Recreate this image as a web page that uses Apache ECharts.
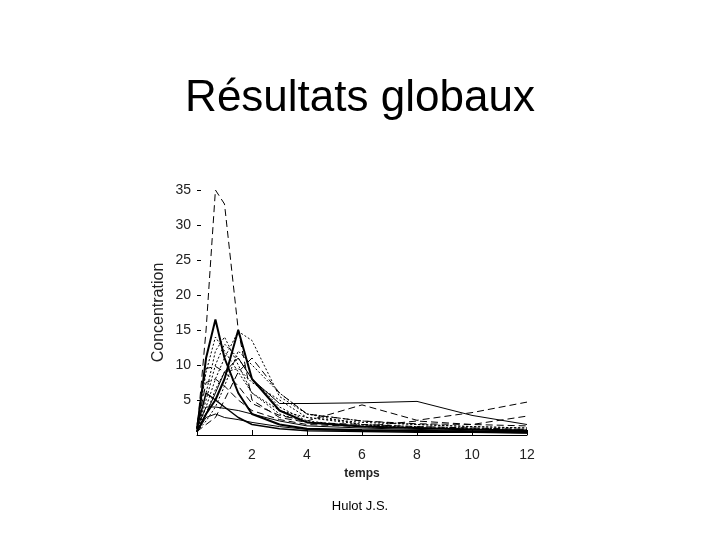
<!DOCTYPE html>
<html>
<head>
<meta charset="utf-8">
<script src="https://cdn.jsdelivr.net/npm/echarts@6/dist/echarts.min.js"></script>
<style>html,body{margin:0;padding:0;background:#fff;}#c{width:720px;height:540px;}</style>
</head>
<body>
<div id="c"></div>
<script>
// sampling times (h)
var times = [0, 0.33, 0.67, 1, 1.5, 2, 3, 4, 6, 8, 10, 12];
var xTicks = [2, 4, 6, 8, 10, 12];
var yTicks = [5, 10, 15, 20, 25, 30, 35];

// individual concentration profiles
var p1  = [0.5, 15, 35, 33, 15, 5, 2.5, 1.8, 1.5, 1.2, 1.0, 0.8];
var p2  = [0.8, 11, 16.5, 11, 6, 3, 1.5, 0.9, 0.7, 0.6, 0.5, 0.4];
var p3  = [0.5, 3, 5, 8, 15, 8, 3.5, 1.8, 1.2, 1.0, 0.8, 0.6];
var p4  = [0.5, 4, 8, 11, 14.8, 13.5, 5.5, 3, 2, 1.5, 1.2, 1.0];
var p5  = [1, 9, 14, 12, 9, 6, 3.5, 2.5, 1.8, 1.5, 1.2, 1.0];
var p6  = [1.5, 9.5, 9.8, 9, 7, 4.5, 2.8, 2, 4.3, 2.1, 3.2, 4.7];
var p7  = [0.5, 3, 6, 9, 11, 8, 4.5, 4.5, 4.6, 4.8, 2.8, 1.5];
var p8  = [0.5, 2, 4, 7, 12, 10, 6, 3, 1.5, 1, 0.8, 0.6];
var p9  = [0.5, 5, 10, 13, 11, 8, 4, 2, 1.2, 1, 0.8, 0.7];
var p10 = [1, 4, 4, 3.8, 3.5, 3, 2, 1.3, 1, 0.8, 0.6, 0.5];
var p11 = [0.5, 2.5, 3, 2.5, 2.2, 1.8, 1.2, 0.8, 0.6, 0.5, 0.4, 0.3];
var p12 = [1, 7.5, 8, 7, 5, 3.5, 2.2, 1.5, 1.2, 2, 1.5, 2.7];
var p13 = [0.5, 6, 12, 14, 10, 6, 3, 1.8, 1.3, 1, 0.9, 0.7];
var p14 = [1, 6, 5, 4, 2.5, 1.5, 0.9, 0.6, 0.5, 0.4, 0.4, 0.3];
var p15 = [0.5, 1.5, 2.5, 5, 9, 11, 6, 3, 2, 1.6, 1.5, 1.3];
var p16 = [0.5, 3, 6.5, 9, 9.5, 7.5, 5, 2.5, 1.5, 1.2, 1.0, 0.8];

var profiles = [
  {d: p1, t: 'dashed', w: 1},
  {d: p2, t: 'solid', w: 2},
  {d: p3, t: 'solid', w: 2},
  {d: p4, t: 'dotted', w: 1},
  {d: p5, t: 'dotted', w: 1},
  {d: p6, t: 'dashed', w: 1},
  {d: p7, t: 'solid', w: 1},
  {d: p8, t: 'dotted', w: 1},
  {d: p9, t: 'dotted', w: 1},
  {d: p10, t: 'solid', w: 1},
  {d: p11, t: 'solid', w: 1},
  {d: p12, t: 'dashed', w: 1},
  {d: p13, t: 'dotted', w: 1},
  {d: p14, t: 'solid', w: 1.5},
  {d: p15, t: 'dashed', w: 1},
  {d: p16, t: 'dotted', w: 1}
];

var dashMap = {solid: 'solid', dashed: [7, 4], dotted: [2, 2]};

var series = profiles.map(function (p) {
  return {
    type: 'line',
    data: times.map(function (t, i) { return [t, p.d[i]]; }),
    showSymbol: false,
    clip: false,
    silent: true,
    lineStyle: {color: '#000', width: p.w, type: dashMap[p.t]}
  };
});

var chart = echarts.init(document.getElementById('c'), null, {renderer: 'canvas'});
chart.setOption({
  animation: false,
  backgroundColor: '#fff',
  textStyle: {fontFamily: 'Liberation Sans, Arial, sans-serif'},
  title: {
    text: 'Résultats globaux',
    left: 'center',
    top: 72,
    textStyle: {fontSize: 44, fontWeight: 'normal', color: '#000', fontFamily: 'Liberation Sans, Arial, sans-serif'}
  },
  grid: {left: 197, right: 193, top: 190, bottom: 105},
  xAxis: {
    type: 'value',
    min: 0, max: 12, interval: 2,
    name: 'temps',
    nameLocation: 'middle',
    nameGap: 33,
    nameTextStyle: {fontSize: 12, fontWeight: 'bold', color: '#222'},
    splitLine: {show: false},
    axisLine: {show: true, lineStyle: {color: '#000', width: 1}},
    axisTick: {show: true, inside: true, length: 5, lineStyle: {color: '#000'}},
    axisLabel: {
      color: '#222', fontSize: 14, margin: 13,
      formatter: function (v) { return xTicks.indexOf(v) >= 0 ? String(v) : ''; }
    }
  },
  yAxis: {
    type: 'value',
    min: 0, max: 35, interval: 5,
    name: 'Concentration',
    nameLocation: 'middle',
    nameGap: 30,
    nameRotate: 90,
    nameTextStyle: {fontSize: 16, color: '#222'},
    splitLine: {show: false},
    axisLine: {show: false},
    axisTick: {show: true, inside: true, length: 4, lineStyle: {color: '#000'}},
    axisLabel: {
      color: '#222', fontSize: 14, margin: 6,
      formatter: function (v) { return yTicks.indexOf(v) >= 0 ? String(v) : ''; }
    }
  },
  graphic: [{
    type: 'text',
    left: 'center',
    top: 500,
    style: {text: 'Hulot J.S.', fontSize: 13, fill: '#000', fontFamily: 'Liberation Sans, Arial, sans-serif'}
  }],
  series: series
});
</script>
</body>
</html>
